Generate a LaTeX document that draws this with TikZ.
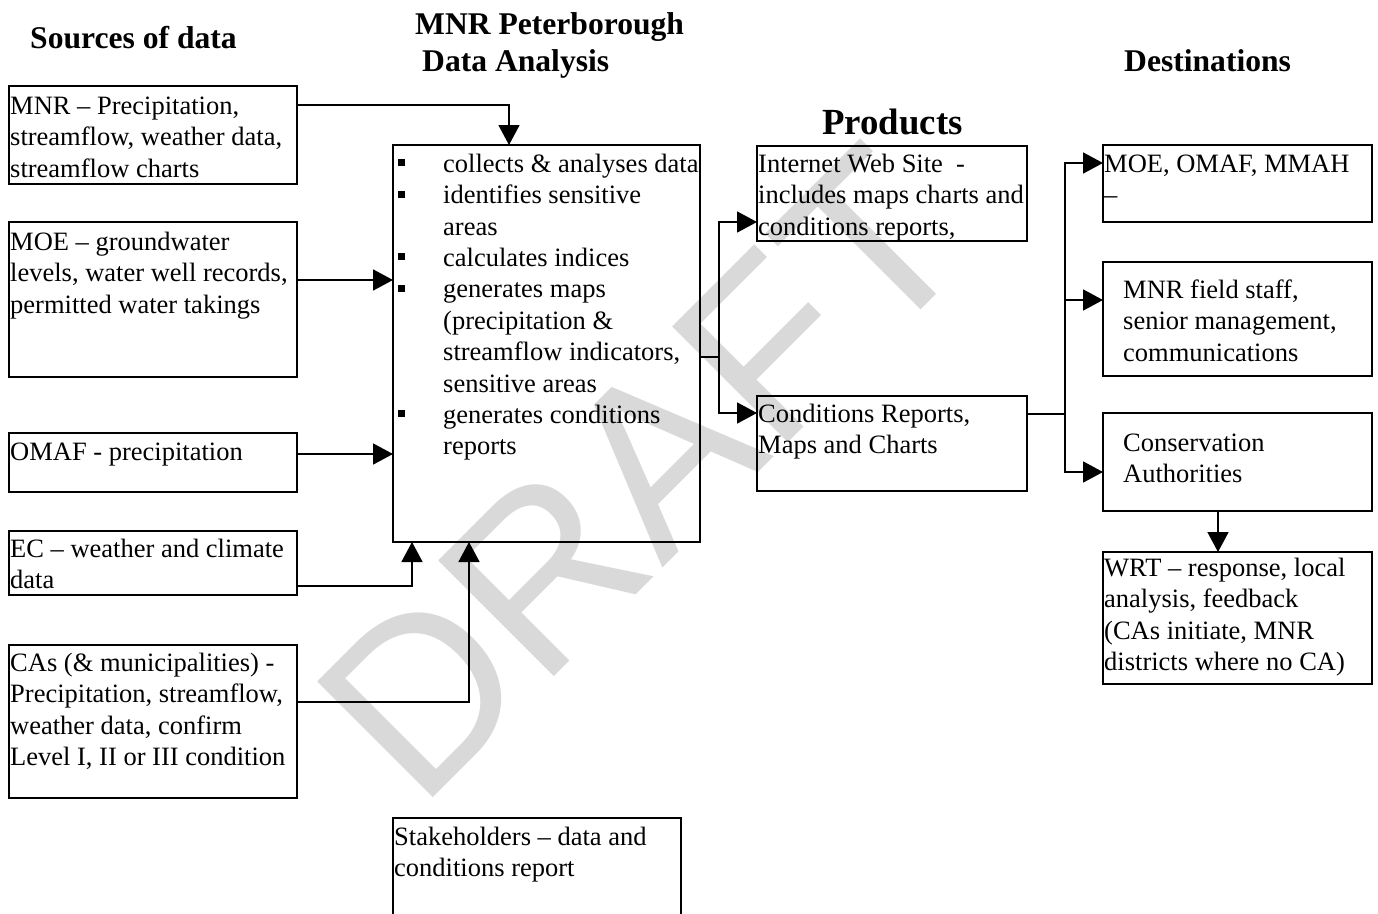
\documentclass[tikz,border=0pt]{standalone}
\usepackage{fontspec}
\setmainfont{Liberation Serif}
\newfontfamily\wmfont{Liberation Sans}
\usetikzlibrary{arrows.meta,calc}
\tikzset{
  box/.style={draw, line width=1.7pt, anchor=north west, inner sep=0pt, outer sep=0pt},
  txt/.style={anchor=north west, inner sep=0pt, align=left, font=\fontsize{26.5}{31.4}\selectfont},
  head/.style={anchor=base west, inner sep=0pt, font=\fontsize{31.6}{36}\selectfont\bfseries},
  conn/.style={line width=1.7pt, -{Triangle[length=20pt,width=21pt]}},
  plain/.style={line width=1.7pt}
}
\newcommand{\fl}{\rule{0pt}{22pt}}
\newcommand{\bul}{\llap{\rule[6pt]{7pt}{7pt}\hspace{38pt}}}
\begin{document}
\begin{tikzpicture}[x=1pt,y=-1pt]
\useasboundingbox (0,0) rectangle (1378,913);
% watermark
\node[anchor=base west, rotate=45, inner sep=0pt, text=black!15, font=\fontsize{238}{238}\selectfont\wmfont] (wm) at (419,812) {DRAFT};
% headers
\node[head] (h1) at (30,48) {Sources of data};
\node[head] (h2) at (415,34) {MNR Peterborough};
\node[head] (h3) at (422,71) {Data Analysis};
\node[head, font=\fontsize{36.8}{40}\selectfont\bfseries] (h4) at (822,134) {Products};
\node[head] (h5) at (1124,71) {Destinations};
% boxes
\node[box, minimum width=288pt, minimum height=98pt] (src1) at (9,86) {};
\node[box, minimum width=288pt, minimum height=155pt] (src2) at (9,222) {};
\node[box, minimum width=288pt, minimum height=59pt] (src3) at (9,433) {};
\node[box, minimum width=288pt, minimum height=64pt] (src4) at (9,531) {};
\node[box, minimum width=288pt, minimum height=153pt] (src5) at (9,645) {};
\node[box, minimum width=307pt, minimum height=397pt] (ana) at (393,145) {};
\node[box, minimum width=288pt, minimum height=120pt] (stake) at (393,818) {};
\node[box, minimum width=270pt, minimum height=95pt] (web) at (757,146) {};
\node[box, minimum width=270pt, minimum height=95pt] (rep) at (757,396) {};
\node[box, minimum width=269pt, minimum height=77pt] (d1) at (1103,145) {};
\node[box, minimum width=269pt, minimum height=114pt] (d2) at (1103,262) {};
\node[box, minimum width=269pt, minimum height=98pt] (d3) at (1103,413) {};
\node[box, minimum width=269pt, minimum height=132pt] (d4) at (1103,552) {};
% texts
\node[txt] (t1) at (10,92) {\fl MNR -- Precipitation,\\streamflow, weather data,\\streamflow charts};
\node[txt] (t2) at (10,228) {\fl MOE -- groundwater\\levels, water well records,\\permitted water takings};
\node[txt] (t3) at (10,438) {\fl OMAF - precipitation};
\node[txt] (t4) at (10,535) {\fl EC -- weather and climate\\data};
\node[txt] (t5) at (10,649) {\fl CAs (\& municipalities) -\\Precipitation, streamflow,\\weather data, confirm\\Level I, II or III condition};
\node[txt] (t6) at (443,150) {\fl\bul collects \& analyses data\\\bul identifies sensitive\\areas\\\bul calculates indices\\\bul generates maps\\(precipitation \&\\streamflow indicators,\\sensitive areas\\\bul generates conditions\\reports};
\node[txt] (t7) at (394,823) {\fl Stakeholders -- data and\\conditions report};
\node[txt] (t8) at (758,150) {\fl Internet Web Site\ \ -\\includes maps charts and\\conditions reports,};
\node[txt] (t9) at (758,400) {\fl Conditions Reports,\\Maps and Charts};
\node[txt] (t10) at (1104,150) {\fl MOE, OMAF, MMAH\\--};
\node[txt] (t11) at (1123,276) {\fl MNR field staff,\\senior management,\\communications};
\node[txt] (t12) at (1123,429) {\fl Conservation\\Authorities};
\node[txt] (t13) at (1104,554) {\fl WRT -- response, local\\analysis, feedback\\(CAs initiate, MNR\\districts where no CA)};
% connectors
\draw[conn] ($(src1.north east)+(0,19)$) -| ($(ana.north west)+(116,0)$);
\draw[conn] ($(src2.north east)+(0,58)$) coordinate (a2) -- (a2 -| ana.west);
\draw[conn] ($(src3.north east)+(0,21)$) coordinate (a3) -- (a3 -| ana.west);
\draw[conn] ($(src4.north east)+(0,55)$) -| ($(ana.south west)+(19,0)$);
\draw[conn] ($(src5.north east)+(0,57)$) -| ($(ana.south west)+(76,0)$);
\draw[plain] ($(ana.north east)+(0,212)$) -- ++(19,0) coordinate (j1);
\draw[conn] (j1) |- ($(web.north west)+(0,76)$);
\draw[conn] (j1) |- ($(rep.north west)+(0,17)$);
\draw[plain] ($(rep.north east)+(0,18)$) -- ++(38,0) coordinate (j2);
\draw[conn] (j2) |- ($(d1.north west)+(0,18)$);
\draw[conn] (j2) |- ($(d2.north west)+(0,38)$);
\draw[conn] (j2) |- ($(d3.north west)+(0,59)$);
\draw[conn] ($(d3.south west)+(115,0)$) -- ($(d4.north west)+(115,0)$);
\end{tikzpicture}
\end{document}
